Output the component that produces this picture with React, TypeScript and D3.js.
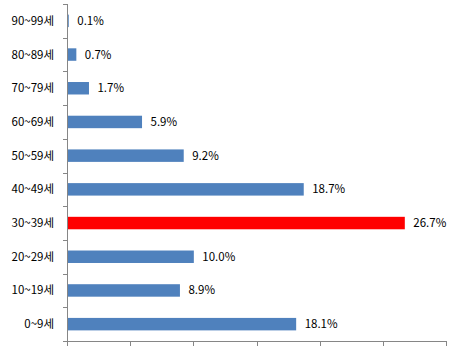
import React from "react";
import * as d3 from "d3";

// age groups, top to bottom as drawn
const categories = ["90~99세", "80~89세", "70~79세", "60~69세", "50~59세", "40~49세", "30~39세", "20~29세", "10~19세", "0~9세"];
const values = [0.1, 0.7, 1.7, 5.9, 9.2, 18.7, 26.7, 10.0, 8.9, 18.1];
const highlight = "30~39세";
const xTicks = [0, 5, 10, 15, 20, 25, 30];

const W = 469;
const H = 351;
const margin = { top: 4, right: 23, bottom: 10, left: 67 };

const App = () => {
  const width = W - margin.left - margin.right;
  const height = H - margin.top - margin.bottom;

  const x = d3.scaleLinear().domain([0, 30]).range([0, width]);
  const y = d3.scaleBand().domain(categories).range([0, height]).paddingInner(0.63).paddingOuter(0.315);
  const band = height / categories.length;

  const axisColor = "#868686";
  const font = "'Noto Sans CJK KR', 'DejaVu Sans', sans-serif";

  return (
    <svg width={W} height={H} style={{ position: "absolute", left: 0, top: 0, background: "#fff" }}>
      <g transform={`translate(${margin.left},${margin.top})`}>
        {categories.map((c, i) => (
          <rect
            key={c}
            x={x(0) + 0.5}
            y={y(c)}
            width={x(values[i]) - x(0)}
            height={y.bandwidth()}
            fill={c === highlight ? "#FF0000" : "#4F81BD"}
          />
        ))}
        {categories.map((c, i) => (
          <text
            key={"v" + c}
            x={x(values[i]) + 9}
            y={y(c)! + y.bandwidth() / 2}
            dy="0.35em"
            fontSize={11.5}
            fontFamily={font}
            fill="#000"
          >
            {values[i].toFixed(1)}%
          </text>
        ))}
        {categories.map((c) => (
          <text
            key={"c" + c}
            x={-13}
            y={y(c)! + y.bandwidth() / 2}
            dy="0.35em"
            textAnchor="end"
            fontSize={11.5}
            fontFamily={font}
            fill="#000"
          >
            {c}
          </text>
        ))}
        {/* y axis */}
        <line x1={0.5} x2={0.5} y1={0} y2={height} stroke={axisColor} />
        {d3.range(categories.length + 1).map((i) => (
          <line key={"yt" + i} x1={-4} x2={0.5} y1={Math.round(i * band) + 0.5} y2={Math.round(i * band) + 0.5} stroke={axisColor} />
        ))}
        {/* x axis */}
        <line x1={0} x2={width} y1={height + 0.5} y2={height + 0.5} stroke={axisColor} />
        {xTicks.map((t) => (
          <line key={"xt" + t} x1={Math.round(x(t)) + 0.5} x2={Math.round(x(t)) + 0.5} y1={height} y2={height + 5} stroke={axisColor} />
        ))}
      </g>
    </svg>
  );
};

export default App;
